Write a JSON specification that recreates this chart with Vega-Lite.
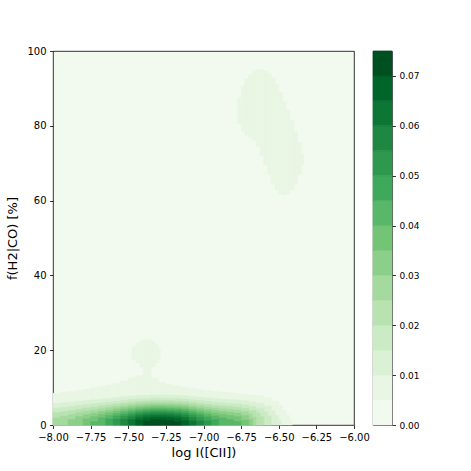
{
"$schema": "https://vega.github.io/schema/vega-lite/v6.json",
"padding": {"left": 6, "top": 45, "right": 5, "bottom": 5},
"bounds": "flush",
"spacing": 19,
"config": {
  "font": "DejaVu Sans",
  "view": {"stroke": "#000", "strokeWidth": 0.8},
  "axis": {"grid": false, "domain": false, "tickColor": "#000", "tickWidth": 0.8, "tickSize": 3.5, "labelPadding": 3.5, "labelColor": "#000", "labelFontSize": 10, "labelFont": "DejaVu Sans", "titleFont": "DejaVu Sans", "titleFontSize": 13, "titleFontWeight": "normal", "titleColor": "#000"}
},
"hconcat": [
{
  "width": 301, "height": 374,
  "view": {"fill": "#f2faef"},
  "data": {"values": [
{"x":-8,"x2":-7.95,"y":0,"y2":8.5,"v":0.0075},
{"x":-7.95,"x2":-7.9,"y":0,"y2":8.8,"v":0.0075},
{"x":-7.9,"x2":-7.85,"y":0,"y2":9,"v":0.0075},
{"x":-7.85,"x2":-7.8,"y":0,"y2":9.3,"v":0.0075},
{"x":-7.8,"x2":-7.75,"y":0,"y2":9.6,"v":0.0075},
{"x":-7.75,"x2":-7.7,"y":0,"y2":10,"v":0.0075},
{"x":-7.7,"x2":-7.65,"y":0,"y2":10.3,"v":0.0075},
{"x":-7.65,"x2":-7.6,"y":0,"y2":10.7,"v":0.0075},
{"x":-7.6,"x2":-7.55,"y":0,"y2":11.2,"v":0.0075},
{"x":-7.55,"x2":-7.5,"y":0,"y2":11.8,"v":0.0075},
{"x":-7.5,"x2":-7.45,"y":0,"y2":12.5,"v":0.0075},
{"x":-7.45,"x2":-7.4,"y":0,"y2":13.2,"v":0.0075},
{"x":-7.4,"x2":-7.35,"y":0,"y2":13.5,"v":0.0075},
{"x":-7.35,"x2":-7.3,"y":0,"y2":12.5,"v":0.0075},
{"x":-7.3,"x2":-7.25,"y":0,"y2":11.5,"v":0.0075},
{"x":-7.25,"x2":-7.2,"y":0,"y2":10.9,"v":0.0075},
{"x":-7.2,"x2":-7.15,"y":0,"y2":10.5,"v":0.0075},
{"x":-7.15,"x2":-7.1,"y":0,"y2":10.1,"v":0.0075},
{"x":-7.1,"x2":-7.05,"y":0,"y2":9.8,"v":0.0075},
{"x":-7.05,"x2":-7,"y":0,"y2":9.5,"v":0.0075},
{"x":-7,"x2":-6.95,"y":0,"y2":9.2,"v":0.0075},
{"x":-6.95,"x2":-6.9,"y":0,"y2":9,"v":0.0075},
{"x":-6.9,"x2":-6.85,"y":0,"y2":8.8,"v":0.0075},
{"x":-6.85,"x2":-6.8,"y":0,"y2":8.6,"v":0.0075},
{"x":-6.8,"x2":-6.75,"y":0,"y2":8.4,"v":0.0075},
{"x":-6.75,"x2":-6.7,"y":0,"y2":8.2,"v":0.0075},
{"x":-6.7,"x2":-6.65,"y":0,"y2":8,"v":0.0075},
{"x":-6.65,"x2":-6.6,"y":0,"y2":7.8,"v":0.0075},
{"x":-6.6,"x2":-6.55,"y":0,"y2":7.4,"v":0.0075},
{"x":-6.55,"x2":-6.5,"y":0,"y2":6.4,"v":0.0075},
{"x":-6.5,"x2":-6.475,"y":0,"y2":5.2,"v":0.0075},
{"x":-6.475,"x2":-6.45,"y":0,"y2":3.9,"v":0.0075},
{"x":-6.45,"x2":-6.425,"y":0,"y2":2.6,"v":0.0075},
{"x":-6.425,"x2":-6.41,"y":0,"y2":1,"v":0.0075},
{"x":-7.475,"x2":-7.45,"y":17.5,"y2":21,"v":0.0075},
{"x":-7.45,"x2":-7.425,"y":16.5,"y2":22,"v":0.0075},
{"x":-7.425,"x2":-7.4,"y":15.5,"y2":22.6,"v":0.0075},
{"x":-7.4,"x2":-7.375,"y":12,"y2":22.8,"v":0.0075},
{"x":-7.375,"x2":-7.35,"y":12,"y2":22.8,"v":0.0075},
{"x":-7.35,"x2":-7.325,"y":15.5,"y2":22.4,"v":0.0075},
{"x":-7.325,"x2":-7.3,"y":16.5,"y2":21.5,"v":0.0075},
{"x":-7.3,"x2":-7.285,"y":17.5,"y2":20.5,"v":0.0075},
{"x":-6.775,"x2":-6.75,"y":80.5,"y2":87.5,"v":0.0075},
{"x":-6.75,"x2":-6.725,"y":78.5,"y2":90.5,"v":0.0075},
{"x":-6.725,"x2":-6.7,"y":77.5,"y2":92.5,"v":0.0075},
{"x":-6.7,"x2":-6.675,"y":76.8,"y2":93.8,"v":0.0075},
{"x":-6.675,"x2":-6.65,"y":76,"y2":94.5,"v":0.0075},
{"x":-6.65,"x2":-6.625,"y":74.5,"y2":95,"v":0.0075},
{"x":-6.625,"x2":-6.6,"y":72,"y2":95,"v":0.0075},
{"x":-6.6,"x2":-6.575,"y":69.5,"y2":94.7,"v":0.0075},
{"x":-6.575,"x2":-6.55,"y":67,"y2":94,"v":0.0075},
{"x":-6.55,"x2":-6.525,"y":64.5,"y2":92.8,"v":0.0075},
{"x":-6.525,"x2":-6.5,"y":62.8,"y2":91,"v":0.0075},
{"x":-6.5,"x2":-6.475,"y":61.8,"y2":89,"v":0.0075},
{"x":-6.475,"x2":-6.45,"y":61.5,"y2":86.5,"v":0.0075},
{"x":-6.45,"x2":-6.425,"y":61.8,"y2":84,"v":0.0075},
{"x":-6.425,"x2":-6.4,"y":62.8,"y2":81.5,"v":0.0075},
{"x":-6.4,"x2":-6.375,"y":64.5,"y2":78.5,"v":0.0075},
{"x":-6.375,"x2":-6.35,"y":67,"y2":75.5,"v":0.0075},
{"x":-6.35,"x2":-6.335,"y":69.5,"y2":72.5,"v":0.0075},
{"x":-8,"x2":-7.95,"y":0,"y2":5.74,"v":0.0125},
{"x":-7.95,"x2":-7.9,"y":0,"y2":5.93,"v":0.0125},
{"x":-7.9,"x2":-7.85,"y":0,"y2":6.1,"v":0.0125},
{"x":-7.85,"x2":-7.8,"y":0,"y2":6.33,"v":0.0125},
{"x":-7.8,"x2":-7.75,"y":0,"y2":6.54,"v":0.0125},
{"x":-7.75,"x2":-7.7,"y":0,"y2":6.72,"v":0.0125},
{"x":-7.7,"x2":-7.65,"y":0,"y2":6.94,"v":0.0125},
{"x":-7.65,"x2":-7.6,"y":0,"y2":7.13,"v":0.0125},
{"x":-7.6,"x2":-7.55,"y":0,"y2":7.35,"v":0.0125},
{"x":-7.55,"x2":-7.5,"y":0,"y2":7.54,"v":0.0125},
{"x":-7.5,"x2":-7.45,"y":0,"y2":7.71,"v":0.0125},
{"x":-7.45,"x2":-7.4,"y":0,"y2":7.86,"v":0.0125},
{"x":-7.4,"x2":-7.35,"y":0,"y2":7.96,"v":0.0125},
{"x":-7.35,"x2":-7.3,"y":0,"y2":8.02,"v":0.0125},
{"x":-7.3,"x2":-7.25,"y":0,"y2":8.02,"v":0.0125},
{"x":-7.25,"x2":-7.2,"y":0,"y2":7.99,"v":0.0125},
{"x":-7.2,"x2":-7.15,"y":0,"y2":7.93,"v":0.0125},
{"x":-7.15,"x2":-7.1,"y":0,"y2":7.83,"v":0.0125},
{"x":-7.1,"x2":-7.05,"y":0,"y2":7.64,"v":0.0125},
{"x":-7.05,"x2":-7,"y":0,"y2":7.46,"v":0.0125},
{"x":-7,"x2":-6.95,"y":0,"y2":7.26,"v":0.0125},
{"x":-6.95,"x2":-6.9,"y":0,"y2":7.08,"v":0.0125},
{"x":-6.9,"x2":-6.85,"y":0,"y2":6.94,"v":0.0125},
{"x":-6.85,"x2":-6.8,"y":0,"y2":6.83,"v":0.0125},
{"x":-6.8,"x2":-6.75,"y":0,"y2":6.72,"v":0.0125},
{"x":-6.75,"x2":-6.7,"y":0,"y2":6.47,"v":0.0125},
{"x":-6.7,"x2":-6.65,"y":0,"y2":6.1,"v":0.0125},
{"x":-6.65,"x2":-6.6,"y":0,"y2":5.82,"v":0.0125},
{"x":-6.6,"x2":-6.55,"y":0,"y2":5.1,"v":0.0125},
{"x":-6.55,"x2":-6.525,"y":0,"y2":3.9,"v":0.0125},
{"x":-6.525,"x2":-6.5,"y":0,"y2":2.6,"v":0.0125},
{"x":-6.5,"x2":-6.485,"y":0,"y2":1.2,"v":0.0125},
{"x":-8,"x2":-7.95,"y":0,"y2":4.47,"v":0.0175},
{"x":-7.95,"x2":-7.9,"y":0,"y2":4.71,"v":0.0175},
{"x":-7.9,"x2":-7.85,"y":0,"y2":4.92,"v":0.0175},
{"x":-7.85,"x2":-7.8,"y":0,"y2":5.21,"v":0.0175},
{"x":-7.8,"x2":-7.75,"y":0,"y2":5.45,"v":0.0175},
{"x":-7.75,"x2":-7.7,"y":0,"y2":5.67,"v":0.0175},
{"x":-7.7,"x2":-7.65,"y":0,"y2":5.93,"v":0.0175},
{"x":-7.65,"x2":-7.6,"y":0,"y2":6.15,"v":0.0175},
{"x":-7.6,"x2":-7.55,"y":0,"y2":6.4,"v":0.0175},
{"x":-7.55,"x2":-7.5,"y":0,"y2":6.62,"v":0.0175},
{"x":-7.5,"x2":-7.45,"y":0,"y2":6.81,"v":0.0175},
{"x":-7.45,"x2":-7.4,"y":0,"y2":6.99,"v":0.0175},
{"x":-7.4,"x2":-7.35,"y":0,"y2":7.1,"v":0.0175},
{"x":-7.35,"x2":-7.3,"y":0,"y2":7.16,"v":0.0175},
{"x":-7.3,"x2":-7.25,"y":0,"y2":7.16,"v":0.0175},
{"x":-7.25,"x2":-7.2,"y":0,"y2":7.13,"v":0.0175},
{"x":-7.2,"x2":-7.15,"y":0,"y2":7.07,"v":0.0175},
{"x":-7.15,"x2":-7.1,"y":0,"y2":6.95,"v":0.0175},
{"x":-7.1,"x2":-7.05,"y":0,"y2":6.74,"v":0.0175},
{"x":-7.05,"x2":-7,"y":0,"y2":6.54,"v":0.0175},
{"x":-7,"x2":-6.95,"y":0,"y2":6.31,"v":0.0175},
{"x":-6.95,"x2":-6.9,"y":0,"y2":6.1,"v":0.0175},
{"x":-6.9,"x2":-6.85,"y":0,"y2":5.93,"v":0.0175},
{"x":-6.85,"x2":-6.8,"y":0,"y2":5.81,"v":0.0175},
{"x":-6.8,"x2":-6.75,"y":0,"y2":5.67,"v":0.0175},
{"x":-6.75,"x2":-6.7,"y":0,"y2":5.38,"v":0.0175},
{"x":-6.7,"x2":-6.65,"y":0,"y2":4.92,"v":0.0175},
{"x":-6.65,"x2":-6.6,"y":0,"y2":4.35,"v":0.0175},
{"x":-6.6,"x2":-6.575,"y":0,"y2":3.5,"v":0.0175},
{"x":-6.575,"x2":-6.55,"y":0,"y2":2.4,"v":0.0175},
{"x":-8,"x2":-7.95,"y":0,"y2":3.28,"v":0.0225},
{"x":-7.95,"x2":-7.9,"y":0,"y2":3.6,"v":0.0225},
{"x":-7.9,"x2":-7.85,"y":0,"y2":3.88,"v":0.0225},
{"x":-7.85,"x2":-7.8,"y":0,"y2":4.23,"v":0.0225},
{"x":-7.8,"x2":-7.75,"y":0,"y2":4.53,"v":0.0225},
{"x":-7.75,"x2":-7.7,"y":0,"y2":4.79,"v":0.0225},
{"x":-7.7,"x2":-7.65,"y":0,"y2":5.09,"v":0.0225},
{"x":-7.65,"x2":-7.6,"y":0,"y2":5.36,"v":0.0225},
{"x":-7.6,"x2":-7.55,"y":0,"y2":5.64,"v":0.0225},
{"x":-7.55,"x2":-7.5,"y":0,"y2":5.88,"v":0.0225},
{"x":-7.5,"x2":-7.45,"y":0,"y2":6.1,"v":0.0225},
{"x":-7.45,"x2":-7.4,"y":0,"y2":6.3,"v":0.0225},
{"x":-7.4,"x2":-7.35,"y":0,"y2":6.42,"v":0.0225},
{"x":-7.35,"x2":-7.3,"y":0,"y2":6.49,"v":0.0225},
{"x":-7.3,"x2":-7.25,"y":0,"y2":6.49,"v":0.0225},
{"x":-7.25,"x2":-7.2,"y":0,"y2":6.45,"v":0.0225},
{"x":-7.2,"x2":-7.15,"y":0,"y2":6.38,"v":0.0225},
{"x":-7.15,"x2":-7.1,"y":0,"y2":6.26,"v":0.0225},
{"x":-7.1,"x2":-7.05,"y":0,"y2":6.02,"v":0.0225},
{"x":-7.05,"x2":-7,"y":0,"y2":5.79,"v":0.0225},
{"x":-7,"x2":-6.95,"y":0,"y2":5.53,"v":0.0225},
{"x":-6.95,"x2":-6.9,"y":0,"y2":5.29,"v":0.0225},
{"x":-6.9,"x2":-6.85,"y":0,"y2":5.09,"v":0.0225},
{"x":-6.85,"x2":-6.8,"y":0,"y2":4.95,"v":0.0225},
{"x":-6.8,"x2":-6.75,"y":0,"y2":4.79,"v":0.0225},
{"x":-6.75,"x2":-6.7,"y":0,"y2":4.44,"v":0.0225},
{"x":-6.7,"x2":-6.65,"y":0,"y2":3.88,"v":0.0225},
{"x":-6.65,"x2":-6.625,"y":0,"y2":3.2,"v":0.0225},
{"x":-6.625,"x2":-6.6,"y":0,"y2":2.2,"v":0.0225},
{"x":-8,"x2":-7.95,"y":0,"y2":1.9,"v":0.0275},
{"x":-7.95,"x2":-7.9,"y":0,"y2":2.42,"v":0.0275},
{"x":-7.9,"x2":-7.85,"y":0,"y2":2.81,"v":0.0275},
{"x":-7.85,"x2":-7.8,"y":0,"y2":3.28,"v":0.0275},
{"x":-7.8,"x2":-7.75,"y":0,"y2":3.66,"v":0.0275},
{"x":-7.75,"x2":-7.7,"y":0,"y2":3.98,"v":0.0275},
{"x":-7.7,"x2":-7.65,"y":0,"y2":4.34,"v":0.0275},
{"x":-7.65,"x2":-7.6,"y":0,"y2":4.64,"v":0.0275},
{"x":-7.6,"x2":-7.55,"y":0,"y2":4.96,"v":0.0275},
{"x":-7.55,"x2":-7.5,"y":0,"y2":5.24,"v":0.0275},
{"x":-7.5,"x2":-7.45,"y":0,"y2":5.48,"v":0.0275},
{"x":-7.45,"x2":-7.4,"y":0,"y2":5.7,"v":0.0275},
{"x":-7.4,"x2":-7.35,"y":0,"y2":5.84,"v":0.0275},
{"x":-7.35,"x2":-7.3,"y":0,"y2":5.91,"v":0.0275},
{"x":-7.3,"x2":-7.25,"y":0,"y2":5.91,"v":0.0275},
{"x":-7.25,"x2":-7.2,"y":0,"y2":5.87,"v":0.0275},
{"x":-7.2,"x2":-7.15,"y":0,"y2":5.8,"v":0.0275},
{"x":-7.15,"x2":-7.1,"y":0,"y2":5.66,"v":0.0275},
{"x":-7.1,"x2":-7.05,"y":0,"y2":5.39,"v":0.0275},
{"x":-7.05,"x2":-7,"y":0,"y2":5.14,"v":0.0275},
{"x":-7,"x2":-6.95,"y":0,"y2":4.84,"v":0.0275},
{"x":-6.95,"x2":-6.9,"y":0,"y2":4.57,"v":0.0275},
{"x":-6.9,"x2":-6.85,"y":0,"y2":4.34,"v":0.0275},
{"x":-6.85,"x2":-6.8,"y":0,"y2":4.17,"v":0.0275},
{"x":-6.8,"x2":-6.75,"y":0,"y2":3.98,"v":0.0275},
{"x":-6.75,"x2":-6.7,"y":0,"y2":3.54,"v":0.0275},
{"x":-6.7,"x2":-6.675,"y":0,"y2":3,"v":0.0275},
{"x":-6.675,"x2":-6.65,"y":0,"y2":2.1,"v":0.0275},
{"x":-7.9,"x2":-7.85,"y":0,"y2":1.44,"v":0.0325},
{"x":-7.85,"x2":-7.8,"y":0,"y2":2.22,"v":0.0325},
{"x":-7.8,"x2":-7.75,"y":0,"y2":2.75,"v":0.0325},
{"x":-7.75,"x2":-7.7,"y":0,"y2":3.16,"v":0.0325},
{"x":-7.7,"x2":-7.65,"y":0,"y2":3.6,"v":0.0325},
{"x":-7.65,"x2":-7.6,"y":0,"y2":3.96,"v":0.0325},
{"x":-7.6,"x2":-7.55,"y":0,"y2":4.34,"v":0.0325},
{"x":-7.55,"x2":-7.5,"y":0,"y2":4.65,"v":0.0325},
{"x":-7.5,"x2":-7.45,"y":0,"y2":4.92,"v":0.0325},
{"x":-7.45,"x2":-7.4,"y":0,"y2":5.16,"v":0.0325},
{"x":-7.4,"x2":-7.35,"y":0,"y2":5.31,"v":0.0325},
{"x":-7.35,"x2":-7.3,"y":0,"y2":5.4,"v":0.0325},
{"x":-7.3,"x2":-7.25,"y":0,"y2":5.4,"v":0.0325},
{"x":-7.25,"x2":-7.2,"y":0,"y2":5.36,"v":0.0325},
{"x":-7.2,"x2":-7.15,"y":0,"y2":5.27,"v":0.0325},
{"x":-7.15,"x2":-7.1,"y":0,"y2":5.12,"v":0.0325},
{"x":-7.1,"x2":-7.05,"y":0,"y2":4.82,"v":0.0325},
{"x":-7.05,"x2":-7,"y":0,"y2":4.53,"v":0.0325},
{"x":-7,"x2":-6.95,"y":0,"y2":4.2,"v":0.0325},
{"x":-6.95,"x2":-6.9,"y":0,"y2":3.88,"v":0.0325},
{"x":-6.9,"x2":-6.85,"y":0,"y2":3.6,"v":0.0325},
{"x":-6.85,"x2":-6.8,"y":0,"y2":3.39,"v":0.0325},
{"x":-6.8,"x2":-6.75,"y":0,"y2":3.16,"v":0.0325},
{"x":-6.75,"x2":-6.7,"y":0,"y2":2.59,"v":0.0325},
{"x":-6.7,"x2":-6.675,"y":0,"y2":1.6,"v":0.0325},
{"x":-7.8,"x2":-7.75,"y":0,"y2":1.62,"v":0.0375},
{"x":-7.75,"x2":-7.7,"y":0,"y2":2.25,"v":0.0375},
{"x":-7.7,"x2":-7.65,"y":0,"y2":2.84,"v":0.0375},
{"x":-7.65,"x2":-7.6,"y":0,"y2":3.28,"v":0.0375},
{"x":-7.6,"x2":-7.55,"y":0,"y2":3.73,"v":0.0375},
{"x":-7.55,"x2":-7.5,"y":0,"y2":4.09,"v":0.0375},
{"x":-7.5,"x2":-7.45,"y":0,"y2":4.39,"v":0.0375},
{"x":-7.45,"x2":-7.4,"y":0,"y2":4.66,"v":0.0375},
{"x":-7.4,"x2":-7.35,"y":0,"y2":4.83,"v":0.0375},
{"x":-7.35,"x2":-7.3,"y":0,"y2":4.92,"v":0.0375},
{"x":-7.3,"x2":-7.25,"y":0,"y2":4.92,"v":0.0375},
{"x":-7.25,"x2":-7.2,"y":0,"y2":4.87,"v":0.0375},
{"x":-7.2,"x2":-7.15,"y":0,"y2":4.78,"v":0.0375},
{"x":-7.15,"x2":-7.1,"y":0,"y2":4.61,"v":0.0375},
{"x":-7.1,"x2":-7.05,"y":0,"y2":4.28,"v":0.0375},
{"x":-7.05,"x2":-7,"y":0,"y2":3.95,"v":0.0375},
{"x":-7,"x2":-6.95,"y":0,"y2":3.56,"v":0.0375},
{"x":-6.95,"x2":-6.9,"y":0,"y2":3.18,"v":0.0375},
{"x":-6.9,"x2":-6.85,"y":0,"y2":2.84,"v":0.0375},
{"x":-6.85,"x2":-6.8,"y":0,"y2":2.57,"v":0.0375},
{"x":-6.8,"x2":-6.75,"y":0,"y2":2.25,"v":0.0375},
{"x":-6.75,"x2":-6.7,"y":0,"y2":1.33,"v":0.0375},
{"x":-7.75,"x2":-7.7,"y":0,"y2":0.89,"v":0.0425},
{"x":-7.7,"x2":-7.65,"y":0,"y2":1.94,"v":0.0425},
{"x":-7.65,"x2":-7.6,"y":0,"y2":2.55,"v":0.0425},
{"x":-7.6,"x2":-7.55,"y":0,"y2":3.1,"v":0.0425},
{"x":-7.55,"x2":-7.5,"y":0,"y2":3.53,"v":0.0425},
{"x":-7.5,"x2":-7.45,"y":0,"y2":3.88,"v":0.0425},
{"x":-7.45,"x2":-7.4,"y":0,"y2":4.18,"v":0.0425},
{"x":-7.4,"x2":-7.35,"y":0,"y2":4.36,"v":0.0425},
{"x":-7.35,"x2":-7.3,"y":0,"y2":4.46,"v":0.0425},
{"x":-7.3,"x2":-7.25,"y":0,"y2":4.46,"v":0.0425},
{"x":-7.25,"x2":-7.2,"y":0,"y2":4.41,"v":0.0425},
{"x":-7.2,"x2":-7.15,"y":0,"y2":4.31,"v":0.0425},
{"x":-7.15,"x2":-7.1,"y":0,"y2":4.12,"v":0.0425},
{"x":-7.1,"x2":-7.05,"y":0,"y2":3.75,"v":0.0425},
{"x":-7.05,"x2":-7,"y":0,"y2":3.37,"v":0.0425},
{"x":-7,"x2":-6.95,"y":0,"y2":2.9,"v":0.0425},
{"x":-6.95,"x2":-6.9,"y":0,"y2":2.42,"v":0.0425},
{"x":-6.9,"x2":-6.85,"y":0,"y2":1.94,"v":0.0425},
{"x":-6.85,"x2":-6.8,"y":0,"y2":1.52,"v":0.0425},
{"x":-6.8,"x2":-6.75,"y":0,"y2":0.89,"v":0.0425},
{"x":-7.65,"x2":-7.6,"y":0,"y2":1.65,"v":0.0475},
{"x":-7.6,"x2":-7.55,"y":0,"y2":2.42,"v":0.0475},
{"x":-7.55,"x2":-7.5,"y":0,"y2":2.94,"v":0.0475},
{"x":-7.5,"x2":-7.45,"y":0,"y2":3.36,"v":0.0475},
{"x":-7.45,"x2":-7.4,"y":0,"y2":3.7,"v":0.0475},
{"x":-7.4,"x2":-7.35,"y":0,"y2":3.91,"v":0.0475},
{"x":-7.35,"x2":-7.3,"y":0,"y2":4.02,"v":0.0475},
{"x":-7.3,"x2":-7.25,"y":0,"y2":4.02,"v":0.0475},
{"x":-7.25,"x2":-7.2,"y":0,"y2":3.96,"v":0.0475},
{"x":-7.2,"x2":-7.15,"y":0,"y2":3.85,"v":0.0475},
{"x":-7.15,"x2":-7.1,"y":0,"y2":3.64,"v":0.0475},
{"x":-7.1,"x2":-7.05,"y":0,"y2":3.2,"v":0.0475},
{"x":-7.05,"x2":-7,"y":0,"y2":2.75,"v":0.0475},
{"x":-7,"x2":-6.95,"y":0,"y2":2.15,"v":0.0475},
{"x":-6.95,"x2":-6.9,"y":0,"y2":1.44,"v":0.0475},
{"x":-7.6,"x2":-7.55,"y":0,"y2":1.57,"v":0.0525},
{"x":-7.55,"x2":-7.5,"y":0,"y2":2.3,"v":0.0525},
{"x":-7.5,"x2":-7.45,"y":0,"y2":2.81,"v":0.0525},
{"x":-7.45,"x2":-7.4,"y":0,"y2":3.21,"v":0.0525},
{"x":-7.4,"x2":-7.35,"y":0,"y2":3.45,"v":0.0525},
{"x":-7.35,"x2":-7.3,"y":0,"y2":3.57,"v":0.0525},
{"x":-7.3,"x2":-7.25,"y":0,"y2":3.57,"v":0.0525},
{"x":-7.25,"x2":-7.2,"y":0,"y2":3.51,"v":0.0525},
{"x":-7.2,"x2":-7.15,"y":0,"y2":3.38,"v":0.0525},
{"x":-7.15,"x2":-7.1,"y":0,"y2":3.14,"v":0.0525},
{"x":-7.1,"x2":-7.05,"y":0,"y2":2.62,"v":0.0525},
{"x":-7.05,"x2":-7,"y":0,"y2":2.05,"v":0.0525},
{"x":-7,"x2":-6.95,"y":0,"y2":1.12,"v":0.0525},
{"x":-7.55,"x2":-7.5,"y":0,"y2":1.5,"v":0.0575},
{"x":-7.5,"x2":-7.45,"y":0,"y2":2.2,"v":0.0575},
{"x":-7.45,"x2":-7.4,"y":0,"y2":2.69,"v":0.0575},
{"x":-7.4,"x2":-7.35,"y":0,"y2":2.97,"v":0.0575},
{"x":-7.35,"x2":-7.3,"y":0,"y2":3.12,"v":0.0575},
{"x":-7.3,"x2":-7.25,"y":0,"y2":3.12,"v":0.0575},
{"x":-7.25,"x2":-7.2,"y":0,"y2":3.05,"v":0.0575},
{"x":-7.2,"x2":-7.15,"y":0,"y2":2.9,"v":0.0575},
{"x":-7.15,"x2":-7.1,"y":0,"y2":2.61,"v":0.0575},
{"x":-7.1,"x2":-7.05,"y":0,"y2":1.96,"v":0.0575},
{"x":-7.05,"x2":-7,"y":0,"y2":1.07,"v":0.0575},
{"x":-7.5,"x2":-7.45,"y":0,"y2":1.44,"v":0.0625},
{"x":-7.45,"x2":-7.4,"y":0,"y2":2.12,"v":0.0625},
{"x":-7.4,"x2":-7.35,"y":0,"y2":2.46,"v":0.0625},
{"x":-7.35,"x2":-7.3,"y":0,"y2":2.63,"v":0.0625},
{"x":-7.3,"x2":-7.25,"y":0,"y2":2.63,"v":0.0625},
{"x":-7.25,"x2":-7.2,"y":0,"y2":2.55,"v":0.0625},
{"x":-7.2,"x2":-7.15,"y":0,"y2":2.37,"v":0.0625},
{"x":-7.15,"x2":-7.1,"y":0,"y2":2,"v":0.0625},
{"x":-7.1,"x2":-7.05,"y":0,"y2":1.02,"v":0.0625},
{"x":-7.45,"x2":-7.4,"y":0,"y2":1.38,"v":0.0675},
{"x":-7.4,"x2":-7.35,"y":0,"y2":1.87,"v":0.0675},
{"x":-7.35,"x2":-7.3,"y":0,"y2":2.09,"v":0.0675},
{"x":-7.3,"x2":-7.25,"y":0,"y2":2.09,"v":0.0675},
{"x":-7.25,"x2":-7.2,"y":0,"y2":1.98,"v":0.0675},
{"x":-7.2,"x2":-7.15,"y":0,"y2":1.75,"v":0.0675},
{"x":-7.15,"x2":-7.1,"y":0,"y2":1.2,"v":0.0675},
{"x":-7.4,"x2":-7.35,"y":0,"y2":1.06,"v":0.0725},
{"x":-7.35,"x2":-7.3,"y":0,"y2":1.41,"v":0.0725},
{"x":-7.3,"x2":-7.25,"y":0,"y2":1.41,"v":0.0725},
{"x":-7.25,"x2":-7.2,"y":0,"y2":1.25,"v":0.0725},
{"x":-7.2,"x2":-7.15,"y":0,"y2":0.82,"v":0.0725}
  ]},
  "mark": {"type": "rect", "strokeWidth": 0.5},
  "encoding": {
    "x": {"field": "x", "type": "quantitative", "scale": {"domain": [-8, -6], "nice": false, "zero": false},
          "axis": {"title": "log I([CII])", "values": [-8, -7.75, -7.5, -7.25, -7, -6.75, -6.5, -6.25, -6], "labelExpr": "replace(format(datum.value, '.2f'), '-', '−')", "titlePadding": 4, "labelFlush": false}},
    "x2": {"field": "x2"},
    "y": {"field": "y", "type": "quantitative", "scale": {"domain": [0, 100], "nice": false},
          "axis": {"title": "f(H2|CO) [%]", "values": [0, 20, 40, 60, 80, 100], "titlePadding": 7}},
    "y2": {"field": "y2"},
    "color": {"field": "v", "type": "quantitative", "legend": null,
      "scale": {"type": "threshold", "domain": [0.005, 0.01, 0.015, 0.02, 0.025, 0.03, 0.035, 0.04, 0.045, 0.05, 0.055, 0.06, 0.065, 0.07],
        "range": ["#f2faef", "#e9f6e4", "#dbf1d5", "#cbebc4", "#b8e3b1", "#a4da9e", "#8ccf8a", "#74c476", "#59b769", "#3fa95b", "#2f984f", "#1e8742", "#0c7734", "#006529", "#004f20"]}},
    "stroke": {"field": "v", "type": "quantitative", "legend": null,
      "scale": {"type": "threshold", "domain": [0.005, 0.01, 0.015, 0.02, 0.025, 0.03, 0.035, 0.04, 0.045, 0.05, 0.055, 0.06, 0.065, 0.07],
        "range": ["#f2faef", "#e9f6e4", "#dbf1d5", "#cbebc4", "#b8e3b1", "#a4da9e", "#8ccf8a", "#74c476", "#59b769", "#3fa95b", "#2f984f", "#1e8742", "#0c7734", "#006529", "#004f20"]}},
    "order": {"field": "v", "type": "quantitative"}
  }
},
{
  "width": 19, "height": 374,
  "data": {"values": [
    {"lo": 0, "hi": 0.005, "v": 0.0025},
    {"lo": 0.005, "hi": 0.01, "v": 0.0075},
    {"lo": 0.01, "hi": 0.015, "v": 0.0125},
    {"lo": 0.015, "hi": 0.02, "v": 0.0175},
    {"lo": 0.02, "hi": 0.025, "v": 0.0225},
    {"lo": 0.025, "hi": 0.03, "v": 0.0275},
    {"lo": 0.03, "hi": 0.035, "v": 0.0325},
    {"lo": 0.035, "hi": 0.04, "v": 0.0375},
    {"lo": 0.04, "hi": 0.045, "v": 0.0425},
    {"lo": 0.045, "hi": 0.05, "v": 0.0475},
    {"lo": 0.05, "hi": 0.055, "v": 0.0525},
    {"lo": 0.055, "hi": 0.06, "v": 0.0575},
    {"lo": 0.06, "hi": 0.065, "v": 0.0625},
    {"lo": 0.065, "hi": 0.07, "v": 0.0675},
    {"lo": 0.07, "hi": 0.075, "v": 0.0725}
  ]},
  "mark": {"type": "rect", "strokeWidth": 0.5},
  "encoding": {
    "x": {"datum": 0, "type": "quantitative", "scale": {"domain": [0, 1], "nice": false}, "axis": null},
    "x2": {"datum": 1},
    "y": {"field": "lo", "type": "quantitative", "scale": {"domain": [0, 0.075], "nice": false},
          "axis": {"orient": "right", "title": null, "values": [0, 0.01, 0.02, 0.03, 0.04, 0.05, 0.06, 0.07], "format": ".2f", "labelFontSize": 9}},
    "y2": {"field": "hi"},
    "color": {"field": "v", "type": "quantitative", "legend": null,
      "scale": {"type": "threshold", "domain": [0.005, 0.01, 0.015, 0.02, 0.025, 0.03, 0.035, 0.04, 0.045, 0.05, 0.055, 0.06, 0.065, 0.07],
        "range": ["#f2faef", "#e9f6e4", "#dbf1d5", "#cbebc4", "#b8e3b1", "#a4da9e", "#8ccf8a", "#74c476", "#59b769", "#3fa95b", "#2f984f", "#1e8742", "#0c7734", "#006529", "#004f20"]}},
    "stroke": {"field": "v", "type": "quantitative", "legend": null,
      "scale": {"type": "threshold", "domain": [0.005, 0.01, 0.015, 0.02, 0.025, 0.03, 0.035, 0.04, 0.045, 0.05, 0.055, 0.06, 0.065, 0.07],
        "range": ["#f2faef", "#e9f6e4", "#dbf1d5", "#cbebc4", "#b8e3b1", "#a4da9e", "#8ccf8a", "#74c476", "#59b769", "#3fa95b", "#2f984f", "#1e8742", "#0c7734", "#006529", "#004f20"]}}
  }
}
]
}
